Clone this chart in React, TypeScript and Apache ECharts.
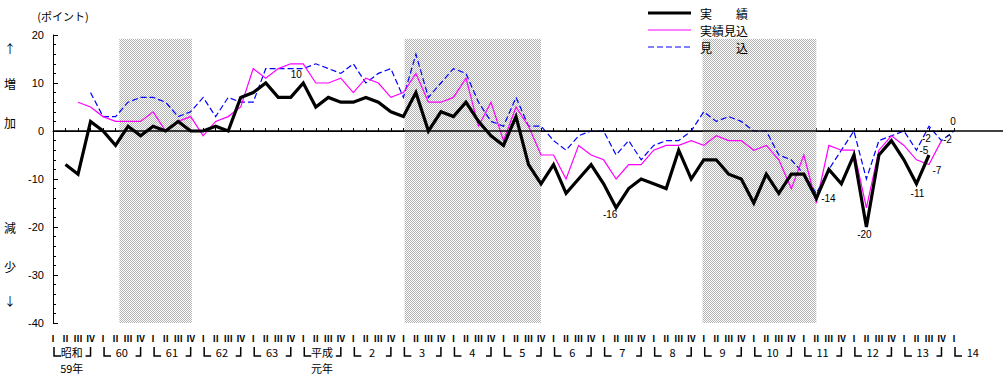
import React, { useEffect, useRef } from "react";
import * as echarts from "echarts";

// quarter labels (Ⅰ..Ⅳ) for each quarter index 0..72 (昭和59 Ⅰ .. 平成14 Ⅰ)
const quarterLabels = ["Ⅰ", "Ⅱ", "Ⅲ", "Ⅳ"];
const lastQuarter = 72;
const yearLabels = ["昭和", "60", "61", "62", "63", "平成", "2", "3", "4", "5", "6", "7", "8", "9", "10", "11", "12", "13", "14"];
const yearSubLabels = [
  { year: 0, text: "59年" },
  { year: 5, text: "元年" },
];

// 実績 (from quarter index 1)
const actualStart = 1;
const actual = [-7, -9, 2, 0, -3, 1, -1, 1, 0, 2, 0, 0, 1, 0, 7, 8, 10, 7, 7, 10, 5, 7, 6, 6, 7, 6, 4, 3, 8, 0, 4, 3, 6, 2, -1, -3, 3, -7, -11, -7, -13, -10, -7, -11, -16, -12, -10, -11, -12, -4, -10, -6, -6, -9, -10, -15, -9, -13, -9, -9, -14, -8, -11, -5, -20, -5, -2, -6, -11, -5];
// 実績見込 (from quarter index 2)
const estimateStart = 2;
const estimate = [6, 5, 3, 2, 2, 2, 4, 0, 2, 3, -1, 2, 3, 5, 13, 11, 13, 14, 14, 10, 10, 11, 8, 11, 10, 7, 8, 12, 6, 6, 7, 11, 1, 6, -2, 5, 1, -5, -5, -10, -3, -5, -6, -10, -7, -7, -4, -3, -3, -2, -3, -1, -2, -2, -4, -3, -6, -12, -5, -15, -3, -4, -4, -16, -4, -1, -3, -6, -7, -2];
// 見込 (from quarter index 3)
const forecastStart = 3;
const forecast = [8, 3, 3, 6, 7, 7, 6, 3, 4, 7, 3, 7, 6, 6, 13, 13, 13, 13, 14, 13, 12, 14, 10, 12, 13, 7, 16, 7, 10, 13, 12, 6, 2, 1, 7, 1, 1, -2, -4, -1, 0, 0, -5, -2, -6, -3, -2, -2, 0, 4, 2, 3, 2, 0, 0, -5, -6, -9, -13, -8, -4, 0, -10, -2, -1, 0, -4, 1, -2, 0];

// shaded periods (quarter index from, to)
const recessions = [
  [5.3, 11.1],
  [28.1, 39.0],
  [51.9, 61.0],
];
const shadeTop = 19.2;

const seriesNames = ["実　　績", "実績見込", "見　　込"];

// labelled points: series index, quarter index, offset of the text centre from the point
const labelled = [
  { s: 0, q: 20, dx: -7, dy: -9 },
  { s: 0, q: 45, dx: -6, dy: 7 },
  { s: 0, q: 61, dx: 12, dy: 0 },
  { s: 0, q: 65, dx: -2, dy: 7 },
  { s: 0, q: 69, dx: 1, dy: 10 },
  { s: 0, q: 70, dx: -5, dy: -5 },
  { s: 1, q: 70, dx: 8, dy: 6 },
  { s: 1, q: 71, dx: 6, dy: -1 },
  { s: 2, q: 71, dx: -15, dy: -2 },
  { s: 2, q: 72, dx: -1, dy: -10 },
];

const JP = '"Noto Sans CJK JP", sans-serif';
const NUM = '"Liberation Sans", Arial, sans-serif';

const toPairs = (values: number[], start: number) => values.map((v, k) => [start + k, v]);

export default function App() {
  const ref = useRef<HTMLDivElement>(null);
  useEffect(() => {
    const chart = echarts.init(ref.current!, null, { renderer: "svg" });

    const cv = document.createElement("canvas");
    cv.width = 2;
    cv.height = 2;
    const ctx = cv.getContext("2d")!;
    ctx.fillStyle = "#ffffff";
    ctx.fillRect(0, 0, 2, 2);
    ctx.fillStyle = "#b2b2b2";
    ctx.fillRect(0, 0, 1, 1);
    ctx.fillRect(1, 1, 1, 1);

    const seriesDefs = [
      { values: actual, start: actualStart, color: "#000", width: 3.2, type: "solid" as any, z: 5 },
      { values: estimate, start: estimateStart, color: "#ff00ff", width: 1.2, type: "solid" as any, z: 4 },
      { values: forecast, start: forecastStart, color: "#0000ff", width: 1.2, type: [6, 3] as any, z: 3 },
    ];

    const option: any = {
      animation: false,
      backgroundColor: "#fff",
      grid: { left: 53, right: 54, top: 35, bottom: 53, containLabel: false },
      xAxis: {
        type: "value",
        min: 0,
        max: lastQuarter,
        interval: 1,
        axisLine: { show: true, lineStyle: { color: "#000", width: 1 } },
        axisTick: { show: true, inside: true, length: 3, lineStyle: { color: "#000" } },
        axisLabel: {
          show: true,
          margin: 11,
          fontSize: 9,
          fontWeight: "bold",
          fontFamily: JP,
          color: "#000",
          formatter: (v: number) => quarterLabels[Math.round(v) % 4],
        },
        splitLine: { show: false },
      },
      yAxis: {
        type: "value",
        min: -40,
        max: 20,
        interval: 10,
        axisLine: { show: true, lineStyle: { color: "#000", width: 1 } },
        axisTick: { show: true, inside: true, length: 5, lineStyle: { color: "#000" } },
        minorTick: { show: true, splitNumber: 5, length: 3, lineStyle: { color: "#000" } },
        axisLabel: { fontSize: 11, fontFamily: NUM, color: "#000", margin: 9 },
        splitLine: { show: false },
      },
      series: seriesDefs.map((d, i) => ({
        name: seriesNames[i],
        type: "line",
        data: toPairs(d.values, d.start),
        symbol: "none",
        z: d.z,
        lineStyle: { color: d.color, width: d.width, type: d.type, join: "miter" },
        itemStyle: { color: d.color },
        ...(i === 0
          ? {
              markArea: {
                silent: true,
                z: 1,
                itemStyle: { color: { image: cv, repeat: "repeat" } },
                data: recessions.map(([a, b]) => [
                  { xAxis: a, yAxis: -40 },
                  { xAxis: b, yAxis: shadeTop },
                ]),
              },
            }
          : {}),
      })),
    };
    chart.setOption(option);

    const px = (q: number, v: number) => chart.convertToPixel({ gridIndex: 0 }, [q, v]) as number[];
    const zero = px(0, 0);
    const bottom = px(0, -40)[1];
    const g: any[] = [];
    // zero line (extends beyond the plot to the right)
    g.push({
      type: "line",
      z: 10,
      shape: { x1: zero[0], y1: zero[1], x2: 1003, y2: zero[1] },
      style: { stroke: "#000", lineWidth: 1.3 },
    });
    // point labels
    labelled.forEach((l) => {
      const d = seriesDefs[l.s];
      const v = d.values[l.q - d.start];
      const p = px(l.q, v);
      g.push({
        type: "text",
        z: 100,
        x: p[0] + l.dx,
        y: p[1] + l.dy,
        style: { text: String(v), fontSize: 10, fontFamily: NUM, fill: "#000", align: "center", verticalAlign: "middle" },
      });
    });
    // legend
    seriesDefs.forEach((d, i) => {
      const y = 13 + i * 17;
      g.push({
        type: "line",
        z: 100,
        shape: { x1: 648, y1: y, x2: 691, y2: y },
        style: { stroke: d.color, lineWidth: i === 0 ? 3 : 1.2, lineDash: i === 2 ? [6, 3] : null },
      });
      g.push({
        type: "text",
        z: 100,
        x: 700,
        y: y,
        style: { text: seriesNames[i], fontSize: 12, fontFamily: JP, fill: "#000", align: "left", verticalAlign: "middle" },
      });
    });
    // year brackets and labels
    const yRow = bottom + 29;
    yearLabels.forEach((t, k) => {
      const qi = k * 4;
      const xl = px(qi, 0)[0];
      g.push({
        type: "polyline",
        shape: { points: [[xl + 1, yRow - 5], [xl + 1, yRow + 4], [xl + 8, yRow + 4]] },
        style: { stroke: "#000", lineWidth: 1.5, fill: null },
      });
      if (qi + 3 <= lastQuarter) {
        const xr = px(qi + 3, 0)[0];
        g.push({
          type: "polyline",
          shape: { points: [[xr - 5, yRow + 4], [xr, yRow + 4], [xr, yRow - 5]] },
          style: { stroke: "#000", lineWidth: 1.5, fill: null },
        });
      }
      const xc = px(qi + 1.5, 0)[0];
      g.push({
        type: "text",
        x: xc,
        y: yRow,
        style: { text: t, fontSize: 11, fontFamily: JP, fill: "#000", align: "center", verticalAlign: "middle" },
      });
    });
    yearSubLabels.forEach((s) => {
      const xc = px(s.year * 4 + 1.5, 0)[0];
      g.push({
        type: "text",
        x: xc,
        y: yRow + 16,
        style: { text: s.text, fontSize: 11, fontFamily: JP, fill: "#000", align: "center", verticalAlign: "middle" },
      });
    });
    // unit and side captions
    g.push({
      type: "text",
      x: 63,
      y: 16,
      style: { text: "(ポイント)", fontSize: 11, fontFamily: JP, fill: "#000", align: "center", verticalAlign: "middle" },
    });
    const side = [
      { t: "↑", y: 48 },
      { t: "増", y: 83 },
      { t: "加", y: 122 },
      { t: "減", y: 227 },
      { t: "少", y: 266 },
      { t: "↓", y: 300 },
    ];
    side.forEach((s) =>
      g.push({
        type: "text",
        x: 10,
        y: s.y,
        style: { text: s.t, fontSize: 12, fontFamily: JP, fill: "#000", align: "center", verticalAlign: "middle" },
      })
    );
    chart.setOption({ graphic: g });

    return () => chart.dispose();
  }, []);
  return <div ref={ref} style={{ position: "absolute", left: 0, top: 0, width: 1008, height: 376 }} />;
}
